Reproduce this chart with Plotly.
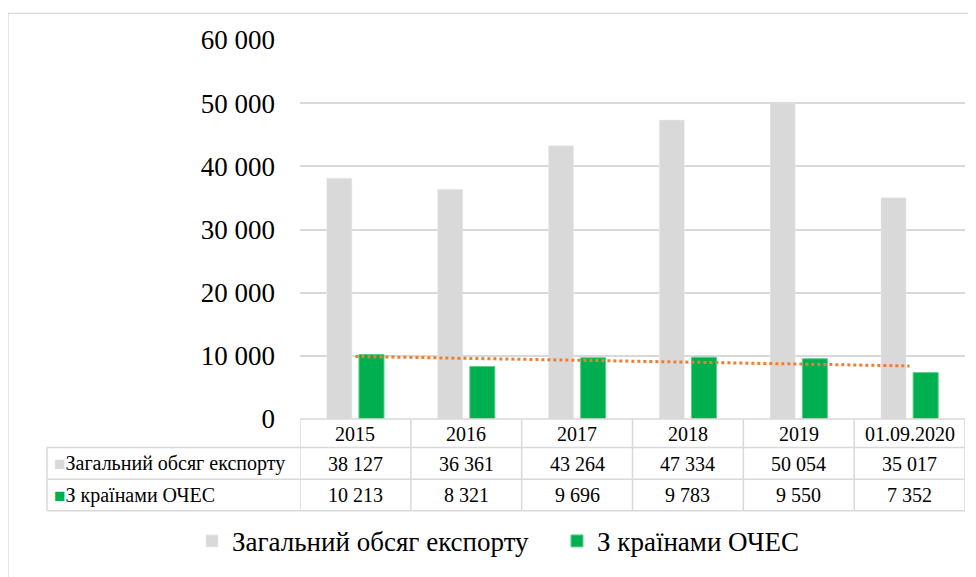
import numpy as np
import plotly.graph_objects as go

categories = ["2015", "2016", "2017", "2018", "2019", "01.09.2020"]
total_export = [38127, 36361, 43264, 47334, 50054, 35017]
oecd_export = [10213, 8321, 9696, 9783, 9550, 7352]
series_names = ["Загальний обсяг експорту", "З країнами ОЧЕС"]
y_ticks = [0, 10000, 20000, 30000, 40000, 50000, 60000]
y_ticktext = ["0", "10 000", "20 000", "30 000", "40 000", "50 000", "60 000"]

GREY = "#d9d9d9"
GREEN = "#00b050"
ORANGE = "#ed7d31"
FONT = "Liberation Serif, Times New Roman, serif"
LINE = "#d9d9d9"

# page body has an 8px default margin; work in screen pixel coordinates
OFF = 8
W, H = 976 - OFF, 577 - OFF
PLOT_L, PLOT_R, PLOT_T, PLOT_B = 300, 965, 40, 424  # screen px
L, R, T, B = PLOT_L - OFF, W - (PLOT_R - OFF), PLOT_T - OFF, H - (PLOT_B - OFF)
pw = PLOT_R - PLOT_L
ph = PLOT_B - PLOT_T


def px_x(p):
    return (p - PLOT_L) / pw


def px_y(p):
    return (PLOT_B - p) / ph


xpos = list(range(len(categories)))
coef = np.polyfit(np.array(xpos) + 1, oecd_export, 1)
trend = list(np.polyval(coef, np.array(xpos) + 1))

fig = go.Figure()
fig.add_trace(go.Bar(x=xpos, y=total_export, name=series_names[0], marker_color=GREY))
fig.add_trace(go.Bar(x=xpos, y=oecd_export, name=series_names[1], marker_color=GREEN,
                     marker_line=dict(color="#5fcf8a", width=1)))
fig.add_trace(go.Scatter(x=xpos, y=trend, mode="lines", showlegend=False,
                         line=dict(color=ORANGE, width=3, dash="dot"), hoverinfo="skip"))

shapes = []
shapes.append(dict(type="rect", xref="paper", yref="paper",
                   x0=px_x(8), x1=px_x(1000), y0=px_y(620), y1=px_y(13),
                   line=dict(color="#d0d0d0", width=1), fillcolor="rgba(0,0,0,0)", layer="below"))
n = len(categories)
for i in range(n + 1):
    shapes.append(dict(type="line", xref="x", yref="paper", x0=i - 0.5, x1=i - 0.5,
                       y0=px_y(424), y1=px_y(517), line=dict(color=LINE, width=1.5)))
shapes.append(dict(type="line", xref="paper", yref="paper", x0=px_x(47), x1=px_x(47),
                   y0=px_y(453), y1=px_y(517), line=dict(color=LINE, width=1.5)))
shapes.append(dict(type="line", xref="paper", yref="paper", x0=0, x1=1,
                   y0=0, y1=0, line=dict(color=LINE, width=1.5)))
for yy in [453, 485, 517]:
    shapes.append(dict(type="line", xref="paper", yref="paper", x0=px_x(47), x1=1,
                       y0=px_y(yy), y1=px_y(yy), line=dict(color=LINE, width=1.5)))

annotations = []
row_y = [px_y(439), px_y(469.5), px_y(501.5)]
cell_font = dict(family=FONT, size=20, color="black")
for i, c in enumerate(categories):
    annotations.append(dict(x=i, y=row_y[0], xref="x", yref="paper", text=c, showarrow=False,
                            xanchor="center", yanchor="middle", font=cell_font))
    annotations.append(dict(x=i, y=row_y[1], xref="x", yref="paper",
                            text=f"{total_export[i]:,}".replace(",", " "), showarrow=False,
                            xanchor="center", yanchor="middle", font=cell_font))
    annotations.append(dict(x=i, y=row_y[2], xref="x", yref="paper",
                            text=f"{oecd_export[i]:,}".replace(",", " "), showarrow=False,
                            xanchor="center", yanchor="middle", font=cell_font))
for k, (nm, col) in enumerate(zip(series_names, [GREY, GREEN])):
    annotations.append(dict(x=px_x(52), y=row_y[k + 1], xref="paper", yref="paper",
                            xanchor="left", yanchor="middle",
                            text=f'<span style="color:{col}; font-size:19px">■</span>{nm}',
                            showarrow=False, font=cell_font))

fig.update_layout(
    width=W, height=H,
    margin=dict(l=L, r=R, t=T, b=B, pad=0),
    paper_bgcolor="white", plot_bgcolor="white",
    barmode="group", bargap=0.42, bargroupgap=0.22,
    font=dict(family=FONT, color="black"),
    xaxis=dict(range=[-0.5, n - 0.5], showticklabels=False, showgrid=False, zeroline=False,
               tickvals=xpos, ticktext=categories, showline=False),
    yaxis=dict(range=[0, 60000], tickvals=y_ticks, ticktext=y_ticktext,
               showgrid=True, gridcolor=LINE, gridwidth=1.5, zeroline=False,
               tickfont=dict(family=FONT, size=27, color="black"), ticklabelstandoff=24),
    legend=dict(orientation="h", x=px_x(192), xanchor="left", y=px_y(548), yanchor="middle",
                font=dict(family=FONT, size=27, color="black"), traceorder="normal",
                entrywidth=320),
    shapes=shapes, annotations=annotations,
)

fig.write_html("out.html")
